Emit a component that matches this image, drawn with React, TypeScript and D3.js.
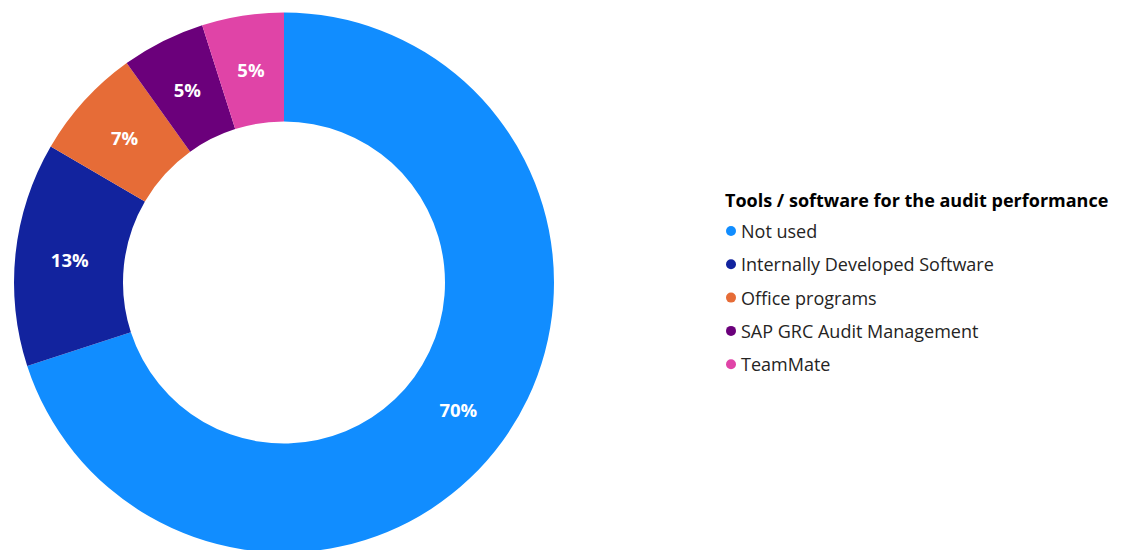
import React from "react";
import * as d3 from "d3";

const categories = [
  "Not used",
  "Internally Developed Software",
  "Office programs",
  "SAP GRC Audit Management",
  "TeamMate",
];
const values = [70.0, 13.4, 6.7, 5.0, 4.9];
const colors = ["#118DFF", "#12239E", "#E66C37", "#6B007B", "#E044A7"];
const legendTitle = "Tools / software for the audit performance";

const W = 1122;
const H = 550;

export default function App() {
  const cx = 284;
  const cy = 282.5;
  const outerR = 270;
  const innerR = 161;
  const total = d3.sum(values);
  const pie = d3
    .pie<number>()
    .sort(null)
    .value((d) => d);
  const arcs = pie(values);
  const arcGen = d3.arc<d3.PieArcDatum<number>>().innerRadius(innerR).outerRadius(outerR);
  const font = "'Open Sans', 'Noto Sans', sans-serif";

  const legendX = 725;
  const legendY0 = 231;
  const legendStep = 33.3;

  return (
    <svg
      width={W}
      height={H}
      style={{ position: "absolute", left: 0, top: 0, background: "#fff" }}
    >
      <g transform={`translate(${cx},${cy})`}>
        {arcs.map((a, i) => (
          <path key={i} d={arcGen(a) || ""} fill={colors[i]} />
        ))}
        {arcs.map((a, i) => {
          const [x, y] = arcGen.centroid(a);
          return (
            <text
              key={"t" + i}
              x={x}
              y={y}
              textAnchor="middle"
              dominantBaseline="central"
              fill="#fff"
              fontFamily={font}
              fontWeight={700}
              fontSize={18.5}
            >
              {Math.round((a.data / total) * 100) + "%"}
            </text>
          );
        })}
      </g>
      <text
        x={legendX}
        y={207}
        fontFamily={font}
        fontWeight={700}
        fontSize={18}
        fill="#000"
      >
        {legendTitle}
      </text>
      {categories.map((c, i) => (
        <g key={c} transform={`translate(${legendX},${legendY0 + i * legendStep})`}>
          <circle cx={6} cy={0} r={5} fill={colors[i]} />
          <text
            x={16}
            y={0}
            dominantBaseline="central"
            fontFamily={font}
            fontSize={18}
            fill="#252423"
          >
            {c}
          </text>
        </g>
      ))}
    </svg>
  );
}
